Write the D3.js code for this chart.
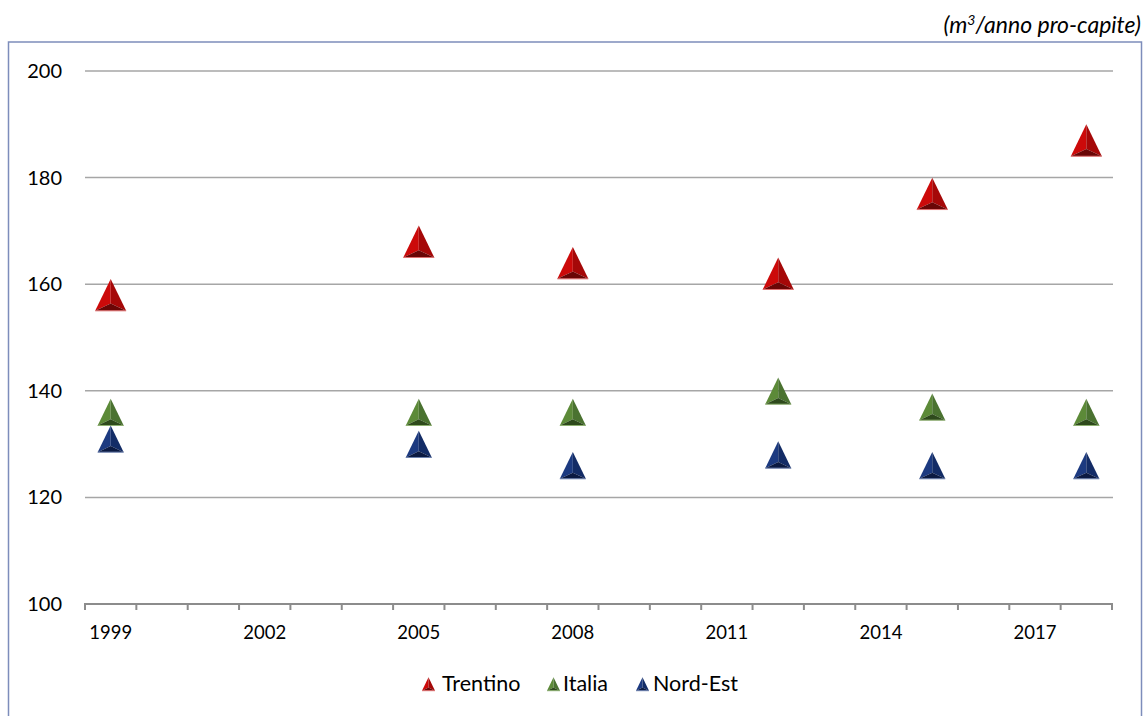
<!DOCTYPE html>
<html>
<head>
<meta charset="utf-8">
<script src="https://cdn.jsdelivr.net/npm/d3@7/dist/d3.min.js"></script>
<style>
  html, body { margin: 0; padding: 0; background: #ffffff; }
  svg { display: block; }
  text { font-family: Lato, "Open Sans", sans-serif; fill: #000; }
</style>
</head>
<body>
<svg id="chart" width="1145" height="716"></svg>
<script>
// ---- data ----
const years = d3.range(1999, 2019).map(String);
const tickLabels = ["1999", "2002", "2005", "2008", "2011", "2014", "2017"];
const obsYears = ["1999", "2005", "2008", "2012", "2015", "2018"];
const trentino = [158, 168, 164, 162, 177, 187];
const italia   = [136, 136, 136, 140, 137, 136];
const nordEst  = [131, 130, 126, 128, 126, 126];
const yTicks = [100, 120, 140, 160, 180, 200];
const seriesNames = ["Trentino", "Italia", "Nord-Est"];

const series = [
  { name: seriesNames[0], values: trentino, size: 31, faces: ["#cc0a0a", "#a50808", "#6a0606"], edge: "#e07070" },
  { name: seriesNames[1], values: italia,   size: 26, faces: ["#5c8a38", "#4a7230", "#2e4a1c"], edge: "#8db070" },
  { name: seriesNames[2], values: nordEst,  size: 26, faces: ["#1c3a80", "#132c66", "#0b1a42"], edge: "#6d82b0" }
];

const svg = d3.select("#chart");

// frame
svg.append("rect")
  .attr("x", 8.5).attr("y", 42).attr("width", 1133).attr("height", 690)
  .attr("fill", "none").attr("stroke", "#7d8dbb").attr("stroke-width", 1.5);

// title
const t = svg.append("text")
  .attr("x", 1141).attr("y", 33)
  .attr("text-anchor", "end")
  .style("font-style", "italic")
  .style("font-size", "23px");
t.append("tspan").text("(m");
t.append("tspan").attr("dy", -8).style("font-size", "14px").text("3");
t.append("tspan").attr("dy", 8).text("/anno pro-capite)");

// scales
const x = d3.scaleBand().domain(years).range([85, 1112]).padding(0);
const y = d3.scaleLinear().domain([100, 200]).range([604, 71]);

// gridlines
svg.append("g")
  .selectAll("line")
  .data(yTicks.filter(v => v > 100))
  .join("line")
  .attr("x1", 85).attr("x2", 1113)
  .attr("y1", d => y(d)).attr("y2", d => y(d))
  .attr("stroke", "#a6a6a6").attr("stroke-width", 1.5);

// y labels
svg.append("g")
  .selectAll("text")
  .data(yTicks)
  .join("text")
  .attr("x", 62).attr("y", d => y(d) + 7)
  .attr("text-anchor", "end")
  .style("font-size", "20px")
  .text(d => d);

// x axis line and ticks
const xAxisG = svg.append("g");
xAxisG.append("line")
  .attr("x1", 84).attr("x2", 1113)
  .attr("y1", y(100)).attr("y2", y(100))
  .attr("stroke", "#8c8c8c").attr("stroke-width", 2);
const boundaries = years.map(yr => x(yr)).concat([x(years[years.length - 1]) + x.bandwidth()]);
xAxisG.selectAll("line.tick")
  .data(boundaries)
  .join("line")
  .attr("class", "tick")
  .attr("x1", d => d).attr("x2", d => d)
  .attr("y1", y(100)).attr("y2", y(100) + 6)
  .attr("stroke", "#8c8c8c").attr("stroke-width", 2);

// x labels
xAxisG.selectAll("text")
  .data(tickLabels)
  .join("text")
  .attr("x", d => x(d) + x.bandwidth() / 2)
  .attr("y", 639)
  .attr("text-anchor", "middle")
  .style("font-size", "18.5px")
  .text(d => d);

// pyramid marker
function pyramid(g, cx, cy, size, faces, edge) {
  const h = size * 1.03;
  const top = cy - h / 2, bot = cy + h / 2;
  const A = [cx, top], L = [cx - size / 2, bot], R = [cx + size / 2, bot], C = [cx, top + 0.77 * h];
  const path = pts => "M" + pts.map(p => p.join(",")).join("L") + "Z";
  g.append("path").attr("d", path([A, L, C])).attr("fill", faces[0]);
  g.append("path").attr("d", path([A, C, R])).attr("fill", faces[1]);
  g.append("path").attr("d", path([L, R, C])).attr("fill", faces[2]);
  g.append("line").attr("x1", L[0]).attr("x2", R[0]).attr("y1", bot).attr("y2", bot)
    .attr("stroke", edge).attr("stroke-width", 1);
}

series.forEach(s => {
  const g = svg.append("g");
  s.values.forEach((v, i) => {
    pyramid(g, x(obsYears[i]) + x.bandwidth() / 2, y(v), s.size, s.faces, s.edge);
  });
});

// legend
const legendItems = [
  { s: series[0], mx: 428.5, tx: 442 },
  { s: series[1], mx: 553.5, tx: 563 },
  { s: series[2], mx: 642.5, tx: 653 }
];
legendItems.forEach(it => {
  const g = svg.append("g");
  pyramid(g, it.mx, 684, 13, it.s.faces, it.s.edge);
  svg.append("text").attr("x", it.tx).attr("y", 691)
    .style("font-size", "21.5px").text(it.s.name);
});
</script>
</body>
</html>
